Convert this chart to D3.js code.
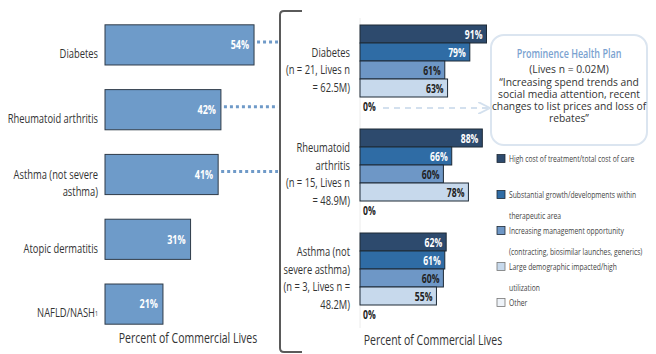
<!DOCTYPE html>
<meta charset="utf-8">
<head>
<script src="https://d3js.org/d3.v7.min.js"></script>
<style>
  body { margin: 0; background: #fff; }
  text { font-family: "Open Sans", sans-serif; fill: #333; }
</style>
</head>
<body>
<div id="chart"></div>
<script>

// left chart: share of commercial lives
var leftCats = ["Diabetes", "Rheumatoid arthritis", "Asthma (not severe asthma)", "Atopic dermatitis", "NAFLD/NASH"];
var leftLabelLines = [["Diabetes"], ["Rheumatoid arthritis"], ["Asthma (not severe", "asthma)"], ["Atopic dermatitis"], ["NAFLD/NASH"]];
var leftVals = [54, 42, 41, 31, 21];

// right chart: reasons by condition
var groups = ["Diabetes", "Rheumatoid arthritis", "Asthma"];
var groupLabelLines = [
  ["Diabetes", "(n = 21, Lives n", "= 62.5M)"],
  ["Rheumatoid", "arthritis", "(n = 15, Lives n", "= 48.9M)"],
  ["Asthma (not", "severe asthma)", "(n = 3, Lives n =", "48.2M)"]
];
var seriesNames = ["High cost", "Substantial growth", "Increasing management", "Large demographic", "Other"];
var seriesValues = [
  [91, 79, 61, 63, 0],
  [88, 66, 60, 78, 0],
  [62, 61, 60, 55, 0]
];
var seriesColors = ["#2d4a6d", "#2f6ca5", "#6e97c6", "#c7d9ec", "#eef3f9"];
var legendLines = [
  ["High cost of treatment/total cost of care", ""],
  ["Substantial growth/developments within", "therapeutic area"],
  ["Increasing management opportunity", "(contracting, biosimilar launches, generics)"],
  ["Large demographic impacted/high", "utilization"],
  ["Other"]
];
var calloutTitle = "Prominence Health Plan";
var calloutLines = ["(Lives n = 0.02M)", "\u201cIncreasing spend trends and", "social media attention, recent", "changes to list prices and loss of", "rebates\u201d"];
var axisTitle = "Percent of Commercial Lives";

var width = 656, height = 354;
// the original uses a condensed face, so squeeze Open Sans horizontally
var SX = 0.75;
function at(x, y, sx) { return "translate(" + x + "," + y + ") scale(" + (sx || SX) + ",1)"; }

var svg = d3.select("#chart").append("svg")
  .attr("width", width)
  .attr("height", height);

// ---------- left bars ----------
var xL = d3.scaleLinear().domain([0, 100]).range([105, 381]);
var yL = d3.scaleBand().domain(leftCats).range([12.5, 336.5]).paddingInner(0.38).paddingOuter(0.19);

// dotted connectors to the bracket (first three conditions)
svg.selectAll(".conn")
  .data(leftCats.slice(0, 3))
  .enter().append("line")
    .attr("x1", function(d, i) { return xL(leftVals[i]) + 3; })
    .attr("x2", 278)
    .attr("y1", function(d) { return yL(d) + yL.bandwidth() / 2 - 3; })
    .attr("y2", function(d) { return yL(d) + yL.bandwidth() / 2 - 3; })
    .attr("stroke", "#6f9ac8")
    .attr("stroke-width", 3)
    .attr("stroke-dasharray", "3,3");

svg.selectAll(".lbar")
  .data(leftCats)
  .enter().append("rect")
    .attr("x", xL(0))
    .attr("y", function(d) { return yL(d); })
    .attr("width", function(d, i) { return xL(leftVals[i]) - xL(0); })
    .attr("height", yL.bandwidth())
    .attr("fill", "#6e9bc9")
    .attr("stroke", "#2f3b48")
    .attr("stroke-width", 1);

svg.selectAll(".lval")
  .data(leftCats)
  .enter().append("text")
    .attr("transform", function(d, i) { return at(xL(leftVals[i]) - 5, yL(d) + yL.bandwidth() / 2); })
    .attr("dy", "0.35em")
    .attr("text-anchor", "end")
    .style("fill", "#fff")
    .style("font-weight", "bold")
    .style("font-size", "12px")
    .text(function(d, i) { return leftVals[i] + "%"; });

leftCats.forEach(function(c, i) {
  var lines = leftLabelLines[i];
  var cy = yL(c) + yL.bandwidth() / 2 + 9;
  var t = svg.append("text")
    .attr("transform", at(98, cy))
    .attr("text-anchor", "end")
    .style("font-size", "12.5px");
  lines.forEach(function(l, j) {
    t.append("tspan")
      .attr("x", 0)
      .attr("y", (j - (lines.length - 1) / 2) * 17)
      .attr("dy", "0.35em")
      .text(l);
  });
  if (c === "NAFLD/NASH") {
    t.append("tspan").attr("dy", "-0.15em").style("font-size", "7px").text("1");
  }
});

svg.append("text")
  .attr("transform", at(188, 338))
  .attr("dy", "0.35em")
  .attr("text-anchor", "middle")
  .style("font-size", "14px")
  .text(axisTitle);

// ---------- bracket ----------
svg.append("path")
  .attr("d", "M302,11 L284,11 Q280,11 280,15 L280,348 Q280,352 284,352 L302,352")
  .attr("fill", "none")
  .attr("stroke", "#5a5a5a")
  .attr("stroke-width", 2);

// ---------- right grouped bars ----------
var xR = d3.scaleLinear().domain([0, 100]).range([360, 499]);
var yG = d3.scaleBand().domain(groups).range([25, 337]);
var yS = d3.scaleBand().domain(seriesNames).range([0, 90]);

svg.append("line")
  .attr("x1", xR(0)).attr("x2", xR(0))
  .attr("y1", 18).attr("y2", 328)
  .attr("stroke", "#ececec")
  .attr("stroke-width", 1);

var g = svg.selectAll(".grp")
  .data(groups)
  .enter().append("g")
    .attr("transform", function(d) { return "translate(0," + yG(d) + ")"; });

function rows(d, i) {
  return seriesValues[i].map(function(v, k) { return {s: seriesNames[k], v: v, k: k}; });
}

g.selectAll("rect")
  .data(function(d, i) { return rows(d, i).filter(function(e) { return e.v > 0; }); })
  .enter().append("rect")
    .attr("x", xR(0))
    .attr("y", function(e) { return yS(e.s); })
    .attr("width", function(e) { return xR(e.v) - xR(0); })
    .attr("height", yS.bandwidth())
    .attr("fill", function(e) { return seriesColors[e.k]; })
    .attr("stroke", "#1e2a36")
    .attr("stroke-width", 1);

g.selectAll("text.val")
  .data(rows)
  .enter().append("text")
    .attr("class", "val")
    .attr("transform", function(e) {
      return at(e.v > 0 ? xR(e.v) - 4 : xR(0) + 3, yS(e.s) + yS.bandwidth() / 2 + 1);
    })
    .attr("dy", "0.35em")
    .attr("text-anchor", function(e) { return e.v > 0 ? "end" : "start"; })
    .style("font-size", "11.5px")
    .style("font-weight", "bold")
    .style("fill", function(e) { return e.k < 2 && e.v > 0 ? "#fff" : "#222"; })
    .text(function(e) { return e.v + "%"; });

groups.forEach(function(grp, i) {
  var lines = groupLabelLines[i];
  var cy = yG(grp) + 45;
  var t = svg.append("text")
    .attr("transform", at(350, cy))
    .attr("text-anchor", "end")
    .style("font-size", "12.5px");
  lines.forEach(function(l, j) {
    t.append("tspan")
      .attr("x", 0)
      .attr("y", (j - (lines.length - 1) / 2) * 17.5)
      .attr("dy", "0.35em")
      .text(l);
  });
});

svg.append("text")
  .attr("transform", at(433, 340))
  .attr("dy", "0.35em")
  .attr("text-anchor", "middle")
  .style("font-size", "14px")
  .text(axisTitle);

// ---------- dashed arrow + callout ----------
var arrowY = yG(groups[0]) + yS(seriesNames[4]) + yS.bandwidth() / 2 + 2;
svg.append("defs").append("marker")
  .attr("id", "arr")
  .attr("viewBox", "0 0 10 10")
  .attr("refX", 9).attr("refY", 5)
  .attr("markerWidth", 6).attr("markerHeight", 6)
  .attr("orient", "auto")
  .append("path")
    .attr("d", "M0,0 L10,5 L0,10")
    .attr("fill", "none")
    .attr("stroke", "#d3e0ee")
    .attr("stroke-width", 1.5);

svg.append("line")
  .attr("x1", 383).attr("x2", 489)
  .attr("y1", arrowY).attr("y2", arrowY)
  .attr("stroke", "#d3e0ee")
  .attr("stroke-width", 2)
  .attr("stroke-dasharray", "6,5")
  .attr("marker-end", "url(#arr)");

svg.append("rect")
  .attr("x", 491).attr("y", 35)
  .attr("width", 156).attr("height", 110)
  .attr("rx", 13)
  .attr("fill", "#fff")
  .attr("stroke", "#dbe5f0")
  .attr("stroke-width", 2);

svg.append("text")
  .attr("transform", at(569, 54, 0.72))
  .attr("dy", "0.35em")
  .attr("text-anchor", "middle")
  .style("font-size", "12.5px")
  .style("font-weight", "600")
  .style("fill", "#7aa2d0")
  .text(calloutTitle);

svg.selectAll(".cl")
  .data(calloutLines)
  .enter().append("text")
    .attr("transform", function(d, i) { return at(569, i === 0 ? 69 : 70 + i * 12.2, 0.98); })
    .attr("dy", "0.35em")
    .attr("text-anchor", "middle")
    .style("font-size", "10.5px")
    .text(function(d) { return d; });

// ---------- legend ----------
var ly = 159;
legendLines.forEach(function(lines, i) {
  svg.append("rect")
    .attr("x", 497).attr("y", ly - 4.5)
    .attr("width", 8).attr("height", 8)
    .attr("fill", seriesColors[i])
    .attr("stroke", i < 3 ? "#1e2a36" : "#777")
    .attr("stroke-width", 0.8);
  lines.forEach(function(l, j) {
    svg.append("text")
      .attr("transform", at(509, ly + j * 21))
      .attr("dy", "0.35em")
      .style("font-size", "9px")
      .style("fill", "#444")
      .text(l);
  });
  ly += (lines.length - 1) * 21 + 15;
});

</script>
</body>
</html>
